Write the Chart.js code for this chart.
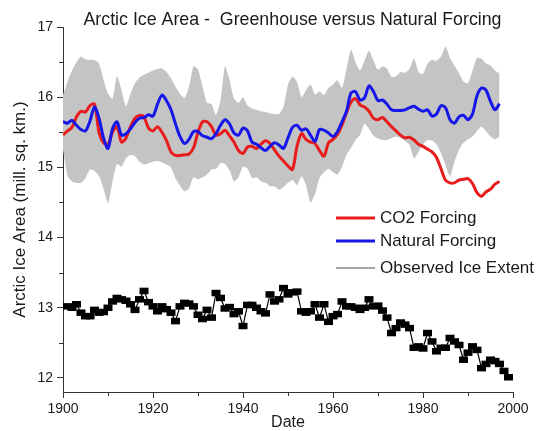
<!DOCTYPE html>
<html>
<head>
<meta charset="utf-8">
<script src="https://cdn.jsdelivr.net/npm/chart.js@4"></script>
<style>
  html, body { margin: 0; padding: 0; background: #fff; }
  canvas { display: block; }
</style>
</head>
<body>
<canvas id="chart" width="542" height="431"></canvas>
<script>
// Model runs, yearly from 1900
const modelStartYear = 1900;

const co2Forcing = [
  15.46, 15.52, 15.57, 15.72, 15.80, 15.79, 15.88, 15.90, 15.50, 15.35,
  15.33, 15.50, 15.58, 15.36, 15.42, 15.58, 15.70, 15.74, 15.72, 15.56,
  15.52, 15.58, 15.50, 15.38, 15.22, 15.17, 15.17, 15.18, 15.19, 15.28,
  15.50, 15.65, 15.65, 15.58, 15.46, 15.48, 15.53, 15.45, 15.36, 15.24,
  15.20, 15.29, 15.30, 15.27, 15.33, 15.38, 15.34, 15.25, 15.16, 15.09,
  15.02, 14.97, 15.30, 15.48, 15.40, 15.36, 15.34, 15.24, 15.16, 15.35,
  15.40, 15.47, 15.60, 15.78, 15.93, 15.98, 15.89, 15.86, 15.80, 15.70,
  15.68, 15.71, 15.65, 15.58, 15.52, 15.46, 15.42, 15.43, 15.39, 15.33,
  15.30, 15.26, 15.22, 15.14, 14.98, 14.82, 14.78, 14.78, 14.82, 14.83,
  14.84, 14.77, 14.64, 14.59, 14.65, 14.69, 14.76, 14.80
];

const naturalForcing = [
  15.65, 15.63, 15.67, 15.60, 15.54, 15.52, 15.66, 15.86, 15.70, 15.42,
  15.27, 15.55, 15.65, 15.46, 15.48, 15.55, 15.64, 15.70, 15.71, 15.75,
  15.73, 15.90, 16.03, 15.95, 15.82, 15.62, 15.44, 15.34, 15.40, 15.51,
  15.51, 15.45, 15.43, 15.41, 15.48, 15.60, 15.68, 15.62, 15.49, 15.46,
  15.56, 15.52, 15.36, 15.33, 15.28, 15.24, 15.30, 15.35, 15.32, 15.27,
  15.42, 15.57, 15.60, 15.53, 15.55, 15.46, 15.37, 15.54, 15.53, 15.49,
  15.44, 15.51, 15.65, 15.80, 16.06, 16.08, 15.96, 15.99, 16.16, 16.08,
  15.95, 15.96, 15.90, 15.82, 15.81, 15.81, 15.82, 15.85, 15.87, 15.83,
  15.80, 15.82, 15.73, 15.76, 15.88, 15.85, 15.68, 15.63, 15.72, 15.74,
  15.68, 15.76, 16.02, 16.13, 16.10, 15.94, 15.82, 15.91
];

// Spread of the model ensemble (upper and lower edge of the shaded band)
const rangeUpper = [
  16.03, 16.22, 16.38, 16.50, 16.58, 16.54, 16.53, 16.53, 16.48, 16.25,
  16.05, 15.98, 16.30, 16.10, 15.87, 16.05, 16.20, 16.28, 16.32, 16.35,
  16.38, 16.40, 16.41, 16.36, 16.27, 16.15, 16.05, 15.99, 16.15, 16.44,
  16.40, 16.15, 15.92, 15.90, 15.75, 15.95, 16.44, 16.25, 15.98, 15.92,
  16.00, 15.88, 15.84, 15.82, 15.80, 15.79, 15.77, 15.76, 15.76, 15.86,
  16.18, 16.29, 16.22, 16.00, 16.10, 16.18, 16.04, 16.08, 16.03, 16.13,
  16.18, 16.24, 16.13, 16.40, 16.68, 16.50, 16.38, 16.52, 16.66, 16.52,
  16.39, 16.44, 16.41, 16.29, 16.30, 16.36, 16.35, 16.40, 16.55, 16.36,
  16.33, 16.48, 16.53, 16.52, 16.58, 16.72, 16.56, 16.45, 16.34, 16.22,
  16.20, 16.38, 16.56, 16.55, 16.48, 16.45, 16.38, 16.34
];

const rangeLower = [
  15.25, 14.88, 14.80, 14.78, 14.78, 14.85, 14.97, 14.95, 14.88, 14.70,
  14.49, 14.80, 15.05, 15.01, 15.13, 15.18, 15.16, 15.08, 15.04, 15.06,
  15.08, 15.09, 15.07, 15.04, 15.00, 14.84, 14.74, 14.66, 14.70, 14.86,
  14.83, 14.86, 14.90, 14.97, 14.98, 15.06, 15.05, 14.96, 14.80, 14.86,
  15.01, 14.98, 14.85, 14.86, 14.80, 14.78, 14.73, 14.73, 14.68, 14.72,
  14.78, 14.82, 14.75, 14.87, 14.75, 14.50, 14.62, 14.85, 14.93, 14.98,
  14.93, 14.90, 15.01, 15.18, 15.28, 15.39, 15.46, 15.62, 15.55, 15.45,
  15.41, 15.39, 15.39, 15.42, 15.44, 15.42, 15.38, 15.32, 15.13, 15.22,
  15.33, 15.39, 15.38, 15.33, 15.20, 15.03, 14.87, 15.08, 15.25, 15.35,
  15.40, 15.44, 15.52, 15.58, 15.52, 15.44, 15.40, 15.44
];

// Observed ice extent, yearly from 1901
const observedStartYear = 1901;
const observedExtent = [
  13.02, 13.00, 13.05, 12.93, 12.88, 12.88, 12.97, 12.93, 12.94, 13.00,
  13.09, 13.14, 13.12, 13.10, 13.05, 12.97, 13.12, 13.24, 13.08, 13.02,
  12.95, 13.02, 12.98, 12.93, 12.81, 13.02, 13.07, 13.06, 13.02, 12.90,
  12.84, 12.97, 12.86, 13.21, 13.14, 12.99, 13.01, 12.91, 12.95, 12.74,
  13.04, 13.04, 13.00, 12.95, 12.92, 13.19, 13.09, 13.12, 13.28, 13.19,
  13.22, 13.23, 12.95, 12.93, 12.95, 13.05, 12.86, 13.05, 12.80, 12.88,
  12.91, 13.09, 13.02, 13.02, 13.00, 12.97, 13.00, 13.12, 13.02, 13.03,
  12.96, 12.86, 12.64, 12.71, 12.79, 12.76, 12.71, 12.43, 12.45, 12.42,
  12.64, 12.52, 12.38, 12.43, 12.43, 12.57, 12.52, 12.47, 12.26, 12.36,
  12.45, 12.40, 12.14, 12.20, 12.26, 12.24, 12.20, 12.10, 12.01
];

const xTickValues = [1900, 1920, 1940, 1960, 1980, 2000];
const xMinorTicks = [1910, 1930, 1950, 1970, 1990];
const yTickValues = [12, 13, 14, 15, 16, 17];
const yMinorTicks = [12.5, 13.5, 14.5, 15.5, 16.5];

const chartTitle = 'Arctic Ice Area -  Greenhouse versus Natural Forcing';
const legendLabels = ['CO2 Forcing', 'Natural Forcing', 'Observed Ice Extent'];

const FONT = '"Liberation Sans", Arial, Helvetica, sans-serif';
const RED = 'rgb(232, 28, 28)';
const BLUE = 'rgb(22, 22, 232)';
const BAND = 'rgb(196, 196, 196)';
const AXIS = '#333';
const TEXT = '#1a1a1a';

const toPoints = (start, values) => values.map((v, i) => ({ x: start + i, y: v }));

// Shorter ticks half-way between the labelled ones
const minorTicks = {
  id: 'minorTicks',
  afterDraw(chart) {
    const { ctx, scales: { x, y } } = chart;
    ctx.save();
    ctx.strokeStyle = AXIS;
    ctx.lineWidth = 1;
    ctx.beginPath();
    xMinorTicks.forEach(v => {
      const px = Math.round(x.getPixelForValue(v)) + 0.5;
      ctx.moveTo(px, y.bottom);
      ctx.lineTo(px, y.bottom + 4);
    });
    yMinorTicks.forEach(v => {
      const py = Math.round(y.getPixelForValue(v)) + 0.5;
      ctx.moveTo(x.left, py);
      ctx.lineTo(x.left - 4, py);
    });
    ctx.stroke();
    ctx.restore();
  }
};

// Heading and the in-plot key
const annotations = {
  id: 'annotations',
  afterDraw(chart) {
    const { ctx, chartArea } = chart;
    ctx.save();
    ctx.fillStyle = TEXT;
    ctx.textBaseline = 'middle';
    ctx.textAlign = 'center';
    ctx.font = `17.8px ${FONT}`;
    ctx.fillText(chartTitle, chartArea.left + 229.5, 20.5);

    const keys = [
      { color: RED, width: 3, y: 218 },
      { color: BLUE, width: 3, y: 241 },
      { color: '#8a8a8a', width: 1.5, y: 268 }
    ];
    ctx.textAlign = 'left';
    ctx.font = `17px ${FONT}`;
    keys.forEach((k, i) => {
      ctx.strokeStyle = k.color;
      ctx.lineWidth = k.width;
      ctx.beginPath();
      ctx.moveTo(336, k.y);
      ctx.lineTo(375, k.y);
      ctx.stroke();
      ctx.fillText(legendLabels[i], 380, k.y + 0.5);
    });
    ctx.restore();
  }
};

new Chart(document.getElementById('chart'), {
  type: 'line',
  data: {
    datasets: [
      {
        label: legendLabels[2],
        data: toPoints(observedStartYear, observedExtent),
        borderColor: '#000',
        borderWidth: 1.2,
        pointStyle: 'line',
        pointRadius: 4.5,
        pointBorderWidth: 6.5,
        pointBorderColor: '#000',
        pointBackgroundColor: '#000',
        fill: false,
        tension: 0
      },
      {
        label: legendLabels[1],
        data: toPoints(modelStartYear, naturalForcing),
        borderColor: BLUE,
        borderWidth: 3,
        pointRadius: 0,
        fill: false,
        tension: 0.3
      },
      {
        label: legendLabels[0],
        data: toPoints(modelStartYear, co2Forcing),
        borderColor: RED,
        borderWidth: 3,
        pointRadius: 0,
        fill: false,
        tension: 0.3
      },
      {
        label: 'upper',
        data: toPoints(modelStartYear, rangeUpper),
        borderWidth: 0,
        borderColor: BAND,
        backgroundColor: BAND,
        pointRadius: 0,
        fill: '+1',
        tension: 0.2
      },
      {
        label: 'lower',
        data: toPoints(modelStartYear, rangeLower),
        borderWidth: 0,
        borderColor: BAND,
        pointRadius: 0,
        fill: false,
        tension: 0.2
      }
    ]
  },
  options: {
    responsive: false,
    devicePixelRatio: 1,
    animation: false,
    events: [],
    layout: { padding: { left: 12, right: 29, top: 27, bottom: 0 } },
    plugins: {
      legend: { display: false },
      title: { display: false },
      tooltip: { enabled: false }
    },
    scales: {
      x: {
        type: 'linear',
        min: 1900,
        max: 2000,
        afterBuildTicks: s => { s.ticks = xTickValues.map(v => ({ value: v })); },
        afterFit: s => { s.height = 39; },
        ticks: {
          color: TEXT,
          font: { family: FONT, size: 14 },
          padding: 3,
          maxRotation: 0,
          autoSkip: false,
          callback: v => String(v)
        },
        grid: {
          drawOnChartArea: false,
          drawTicks: true,
          tickLength: 6,
          tickColor: AXIS,
          tickWidth: 1
        },
        border: { display: true, color: AXIS, width: 1 },
        title: {
          display: true,
          text: 'Date',
          color: TEXT,
          font: { family: FONT, size: 16, lineHeight: 1 },
          padding: 0
        }
      },
      y: {
        min: 11.8,
        max: 17,
        afterBuildTicks: s => { s.ticks = yTickValues.map(v => ({ value: v })); },
        afterFit: s => { s.width = 51; },
        ticks: {
          color: TEXT,
          font: { family: FONT, size: 14 },
          padding: 4,
          callback: v => String(v)
        },
        grid: {
          drawOnChartArea: false,
          drawTicks: true,
          tickLength: 6,
          tickColor: AXIS,
          tickWidth: 1
        },
        border: { display: true, color: AXIS, width: 1 },
        title: {
          display: true,
          text: 'Arctic Ice Area (mill. sq. km.)',
          color: TEXT,
          font: { family: FONT, size: 17, lineHeight: 1 },
          padding: 0
        }
      }
    }
  },
  plugins: [minorTicks, annotations]
});
</script>
</body>
</html>
